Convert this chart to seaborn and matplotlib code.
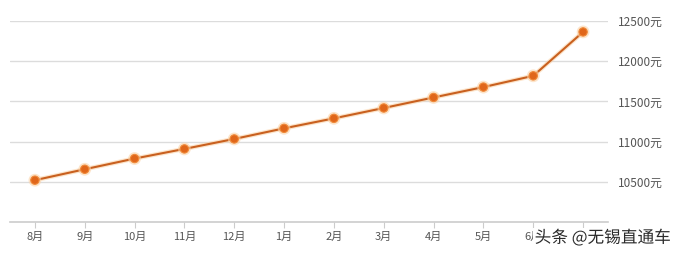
import matplotlib
matplotlib.use("Agg")
import matplotlib.pyplot as plt
import seaborn as sns
import pandas as pd
import matplotlib.patheffects as pe

months = ["8月", "9月", "10月", "11月", "12月", "1月", "2月", "3月", "4月", "5月", "6月", "7月"]
prices = [10520, 10656, 10789, 10909, 11033, 11165, 11289, 11418, 11549, 11678, 11818, 12364]
yticks = [10500, 11000, 11500, 12000, 12500]
ytick_labels = ["10500元", "11000元", "11500元", "12000元", "12500元"]

sns.set_theme(style="white")
plt.rcParams['font.family'] = ['Noto Sans CJK SC', 'DejaVu Sans']

df = pd.DataFrame({"month": months, "price": prices})
fig = plt.figure(figsize=(6.78, 2.56), dpi=100)
ax = fig.add_axes([10/678, 34/256, 598/678, 201/256])

line_fx = [pe.Stroke(linewidth=3.2, foreground="#fbd3a8", alpha=0.6), pe.Normal()]
sns.lineplot(data=df, x="month", y="price", ax=ax, color="#c9601f", linewidth=1.5,
             marker="o", markersize=6, markeredgecolor="#f08a3a", markeredgewidth=0.8,
             markerfacecolor="#e0661a", sort=False, zorder=3, path_effects=line_fx)

ax.set_xlim(-0.5, len(months) - 0.5)
ax.set_ylim(10000, 12500)
ax.set_xticks(range(len(months)))
ax.set_xticklabels(months)
ax.set_yticks(yticks)
ax.set_yticklabels(ytick_labels)
ax.yaxis.tick_right()
ax.set_xlabel("")
ax.set_ylabel("")
ax.grid(axis="y", color="#dcdcdc", linewidth=1)
for s in ["left", "right", "top"]:
    ax.spines[s].set_visible(False)
ax.spines["bottom"].set_color("#cccccc")
ax.spines["bottom"].set_linewidth(1.2)
ax.tick_params(axis="x", colors="#555555", labelsize=8, length=4, width=0.8, color="#cccccc", bottom=True, pad=3)
ax.tick_params(axis="y", colors="#555555", labelsize=8.5, length=0, pad=7, right=False)

fig.text(0.989, 0.07, "头条 @无锡直通车", ha="right", va="center", fontsize=12, color="#2a2a2a",
         path_effects=[pe.withStroke(linewidth=2.5, foreground="white")],
         bbox=dict(facecolor="white", edgecolor="none", pad=1.0), zorder=10)

fig.savefig("out.png", dpi=100, facecolor="white")
